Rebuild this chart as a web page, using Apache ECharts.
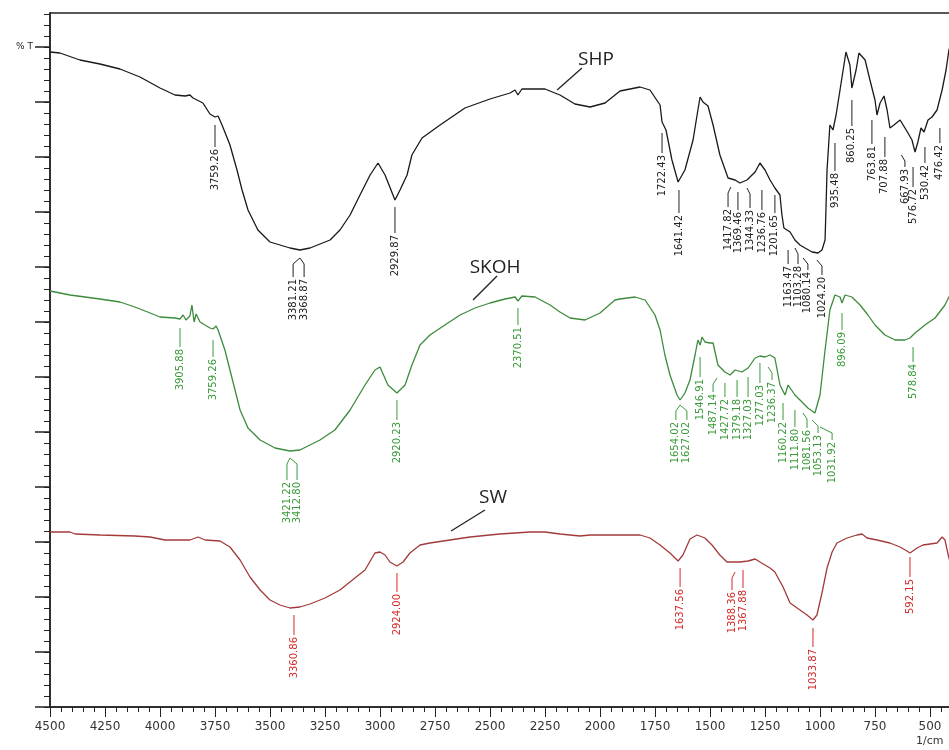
<!DOCTYPE html>
<html>
<head>
<meta charset="utf-8">
<title>FTIR SHP / SKOH / SW</title>
<script src="https://cdn.jsdelivr.net/npm/echarts@6/dist/echarts.min.js"></script>
<style>
    html, body { margin: 0; padding: 0; background: #fff; }
    #chart_main { width: 949px; height: 750px; }
</style>
</head>
<body>
<div id="chart_main"></div>
<script>
// [wavenumber 1/cm, relative %T] - the original prints no %T scale
var shp = [
    [4500, 655], [4455, 654], [4364, 647], [4273, 643], [4182, 638], [4091, 630], [4000, 619],
    [3932, 612], [3886, 611], [3864, 612], [3850, 609], [3841, 608], [3805, 604], [3773, 593],
    [3750, 590], [3736, 591], [3718, 582], [3682, 562], [3650, 537], [3627, 517], [3600, 497],
    [3555, 477], [3500, 465], [3409, 459], [3364, 457], [3318, 459], [3227, 467], [3182, 477],
    [3136, 492], [3091, 512], [3045, 532], [3009, 544], [2977, 532], [2932, 507], [2909, 517],
    [2877, 532], [2855, 552], [2809, 569], [2727, 582], [2614, 599], [2500, 608], [2409, 614],
    [2386, 617], [2373, 612], [2355, 618], [2250, 618], [2182, 612], [2114, 603], [2045, 600],
    [1977, 604], [1909, 616], [1841, 619], [1818, 620], [1773, 617], [1727, 602], [1718, 585],
    [1700, 577], [1673, 547], [1645, 525], [1614, 537], [1577, 567], [1555, 597], [1545, 610],
    [1532, 605], [1509, 601], [1486, 582], [1455, 552], [1418, 529], [1386, 527], [1364, 524],
    [1332, 527], [1295, 535], [1273, 544], [1250, 537], [1227, 527], [1205, 519], [1182, 512],
    [1173, 492], [1164, 479], [1150, 477], [1136, 475], [1114, 467], [1091, 462], [1068, 459],
    [1036, 455], [1009, 454], [991, 457], [977, 467], [973, 497], [968, 537], [955, 582],
    [941, 577], [927, 592], [909, 617], [882, 655], [864, 642], [855, 619], [836, 637],
    [823, 654], [795, 647], [773, 627], [750, 607], [741, 592], [727, 604], [709, 611],
    [695, 597], [682, 579], [664, 582], [636, 587], [600, 574], [582, 567], [568, 555],
    [555, 565], [541, 579], [527, 575], [509, 587], [491, 590], [468, 597], [445, 617],
    [427, 637], [414, 657], [400, 665]
];
var skoh = [
    [4500, 416], [4409, 412], [4273, 408], [4182, 405], [4114, 400], [4045, 394], [4000, 390],
    [3932, 389], [3909, 388], [3895, 392], [3882, 387], [3864, 391], [3855, 402], [3845, 385],
    [3836, 393], [3818, 385], [3773, 379], [3759, 378], [3745, 381], [3736, 377], [3705, 357],
    [3682, 337], [3659, 317], [3636, 297], [3600, 279], [3545, 267], [3477, 259], [3409, 256],
    [3364, 257], [3273, 267], [3205, 277], [3136, 297], [3068, 322], [3023, 337], [3000, 340],
    [2964, 322], [2923, 314], [2886, 322], [2855, 342], [2818, 362], [2773, 372], [2705, 382],
    [2636, 392], [2568, 399], [2500, 404], [2432, 408], [2386, 410], [2373, 406], [2355, 411],
    [2295, 410], [2227, 402], [2182, 395], [2136, 389], [2068, 387], [2000, 394], [1932, 407],
    [1909, 408], [1841, 410], [1795, 407], [1750, 392], [1727, 377], [1705, 352], [1682, 332],
    [1650, 312], [1636, 307], [1614, 314], [1591, 327], [1568, 352], [1555, 367], [1545, 362],
    [1536, 370], [1523, 365], [1500, 364], [1486, 364], [1464, 342], [1432, 335], [1409, 332],
    [1386, 337], [1355, 335], [1327, 339], [1295, 349], [1273, 351], [1250, 350], [1227, 352],
    [1205, 349], [1182, 322], [1159, 312], [1145, 322], [1114, 312], [1091, 307], [1055, 299],
    [1023, 294], [1000, 312], [977, 357], [955, 397], [932, 412], [909, 410], [900, 404],
    [886, 412], [855, 410], [818, 402], [782, 392], [750, 382], [705, 372], [659, 367],
    [614, 367], [591, 369], [568, 374], [523, 382], [477, 389], [432, 402], [414, 410], [400, 414]
];
var sw = [
    [4500, 175], [4409, 175], [4386, 173], [4273, 172], [4114, 171], [4045, 170], [3977, 167],
    [3864, 167], [3827, 170], [3795, 167], [3727, 166], [3682, 160], [3636, 147], [3591, 130],
    [3545, 117], [3500, 107], [3455, 102], [3409, 99], [3364, 100], [3318, 103], [3250, 109],
    [3182, 117], [3114, 129], [3068, 137], [3023, 154], [3000, 155], [2977, 152], [2955, 145],
    [2923, 141], [2895, 145], [2864, 154], [2818, 162], [2773, 164], [2682, 167], [2591, 170],
    [2455, 173], [2318, 175], [2250, 175], [2182, 173], [2091, 171], [2045, 172], [1909, 172],
    [1818, 172], [1773, 169], [1727, 162], [1682, 154], [1645, 146], [1623, 152], [1591, 168],
    [1559, 172], [1523, 169], [1491, 162], [1455, 152], [1423, 145], [1364, 145], [1327, 146],
    [1295, 148], [1273, 145], [1227, 139], [1205, 135], [1168, 120], [1136, 104], [1091, 97],
    [1059, 92], [1032, 87], [1014, 92], [991, 114], [968, 139], [945, 155], [923, 164],
    [877, 169], [832, 172], [809, 173], [786, 169], [741, 167], [682, 164], [636, 160],
    [605, 156], [591, 154], [559, 159], [532, 162], [468, 164], [445, 170], [432, 167],
    [414, 149], [400, 140]
];

// peak labels: [label at (1/cm), leader top (%T), text, leader starts at (1/cm), leader length px]
var shpPeaks = [
    [3750, 582, '3759.26', 3750, 22], [3395, 449, '3381.21', 3364, 19], [3345, 449, '3368.87', 3364, 19],
    [2932, 500, '2929.87', 2932, 26], [1718, 574, '1722.43', 1718, 20], [1641, 517, '1641.42', 1641, 23],
    [1418, 520, '1417.82', 1405, 20], [1373, 515, '1369.46', 1373, 18], [1318, 519, '1344.33', 1332, 20],
    [1264, 517, '1236.76', 1264, 20], [1205, 512, '1201.65', 1205, 18], [1145, 457, '1163.47', 1145, 14],
    [1100, 459, '1103.28', 1114, 16], [1055, 449, '1080.14', 1077, 12], [991, 447, '1024.20', 1014, 15],
    [932, 564, '935.48', 932, 28], [855, 607, '860.25', 855, 26], [764, 587, '763.81', 764, 24],
    [705, 570, '707.88', 705, 20], [614, 552, '667.93', 630, 12], [577, 540, '576.72', 577, 20],
    [523, 560, '530.42', 523, 16], [455, 579, '476.42', 455, 15]
];
var skohPeaks = [
    [3909, 379, '3905.88', 3909, 19], [3759, 367, '3759.26', 3759, 17], [3423, 249, '3421.22', 3409, 22],
    [3377, 249, '3412.80', 3409, 22], [2923, 307, '2920.23', 2923, 20], [2373, 399, '2370.51', 2373, 17],
    [1655, 302, '1654.02', 1636, 15], [1605, 302, '1627.02', 1636, 15], [1545, 350, '1546.91', 1545, 20],
    [1486, 329, '1487.14', 1468, 14], [1432, 324, '1427.72', 1432, 14], [1377, 327, '1379.18', 1377, 17],
    [1327, 330, '1327.03', 1327, 20], [1273, 344, '1277.03', 1273, 20], [1218, 340, '1236.37', 1236, 13],
    [1168, 304, '1160.22', 1168, 17], [1114, 297, '1111.80', 1114, 17], [1059, 294, '1081.56', 1077, 15],
    [1009, 287, '1053.13', 1036, 13], [945, 280, '1031.92', 1000, 13], [900, 394, '896.09', 900, 17],
    [577, 360, '578.84', 577, 15]
];
var swPeaks = [
    [3391, 92, '3360.86', 3391, 20], [2923, 134, '2924.00', 2923, 19], [1636, 139, '1637.56', 1636, 19],
    [1400, 135, '1388.36', 1386, 18], [1350, 137, '1367.88', 1350, 18], [1032, 79, '1033.87', 1032, 19],
    [591, 150, '592.15', 591, 20]
];

// sample names with pointer: [name, line from x, y, line to x, y, text x, y]
var sampleTags = [
    ['SHP', 2195, 617, 2082, 639, 2018, 647],
    ['SKOH', 2577, 407, 2468, 431, 2477, 439],
    ['SW', 2677, 176, 2523, 197, 2486, 209]
];

var yMajor = [0, 55, 110, 165, 220, 275, 330, 385, 440, 495, 550, 605, 660];
var yMinor = [];
for (var t = 0; t <= 693; t += 11) yMinor.push(t);

function peakItem(list, color) {
    return function (params, api) {
        var p = list[params.dataIndex];
        var a = api.coord([p[3], p[1]]);
        var b = api.coord([p[0], p[1]]);
        var bend = p[3] !== p[0] ? 6 : 0;
        var end = a[1] + p[4];
        return {
            type: 'group',
            children: [{
                type: 'polyline',
                shape: { points: [[a[0], a[1]], [b[0], a[1] + bend], [b[0], end]] },
                style: { stroke: color, lineWidth: 1, fill: null }
            }, {
                type: 'text',
                x: b[0],
                y: end + 2,
                rotation: Math.PI / 2,
                style: {
                    text: p[2], fill: color, font: '10px "DejaVu Sans"',
                    align: 'right', verticalAlign: 'middle'
                }
            }]
        };
    };
}

function peakSeries(list, color) {
    return {
        type: 'custom',
        renderItem: peakItem(list, color),
        data: list.map(function (p) { return [p[0], p[1]]; }),
        encode: { x: 0, y: 1 },
        silent: true,
        z: 3
    };
}

var myChart = echarts.init(document.getElementById('chart_main'));
var option = {
    animation: false,
    backgroundColor: '#fff',
    grid: {
        left: 50, top: 13, bottom: 43, width: 935,
        outerBoundsMode: 'none',
        show: true, borderColor: '#222', borderWidth: 1.5
    },
    xAxis: {
        type: 'value',
        inverse: true,
        min: 250,
        max: 4500,
        interval: 250,
        axisLine: { lineStyle: { color: '#222', width: 1.5 } },
        axisTick: { length: 10, lineStyle: { color: '#222' } },
        minorTick: { show: true, splitNumber: 5, length: 5, lineStyle: { color: '#222' } },
        splitLine: { show: false },
        axisLabel: {
            margin: 14, color: '#333', fontSize: 12, fontFamily: 'DejaVu Sans',
            showMaxLabel: true,
            formatter: function (v) { return String(v); }
        }
    },
    yAxis: [{
        type: 'value',
        min: 0,
        max: 694,
        axisLine: { show: true, lineStyle: { color: '#222', width: 1.5 } },
        axisTick: { show: true, length: 15, customValues: yMajor, lineStyle: { color: '#222', width: 1.5 } },
        axisLabel: { show: false },
        splitLine: { show: false }
    }, {
        type: 'value',
        min: 0,
        max: 694,
        position: 'left',
        axisLine: { show: false },
        axisTick: { show: true, length: 6, customValues: yMinor, lineStyle: { color: '#222' } },
        axisLabel: { show: false },
        splitLine: { show: false }
    }],
    graphic: [
        { type: 'text', left: 16, top: 42, style: { text: '% T', font: '9px "DejaVu Sans"', fill: '#222' } },
        { type: 'text', left: 916, top: 736, style: { text: '1/cm', font: '11px "DejaVu Sans"', fill: '#333' } }
    ],
    series: [
        { name: 'SHP', type: 'line', data: shp, showSymbol: false, lineStyle: { color: '#1a1a1a', width: 1.3 }, z: 2 },
        { name: 'SKOH', type: 'line', data: skoh, showSymbol: false, lineStyle: { color: '#3d8b3d', width: 1.3 }, z: 2 },
        { name: 'SW', type: 'line', data: sw, showSymbol: false, lineStyle: { color: '#a33b3b', width: 1.3 }, z: 2 },
        peakSeries(shpPeaks, '#222'),
        peakSeries(skohPeaks, '#3a9a3a'),
        peakSeries(swPeaks, '#d42a2a'),
        {
            type: 'custom',
            silent: true,
            data: sampleTags.map(function (s) { return [s[5], s[6]]; }),
            encode: { x: 0, y: 1 },
            renderItem: function (params, api) {
                var s = sampleTags[params.dataIndex];
                var a = api.coord([s[1], s[2]]);
                var b = api.coord([s[3], s[4]]);
                var c = api.coord([s[5], s[6]]);
                return {
                    type: 'group',
                    children: [{
                        type: 'line',
                        shape: { x1: a[0], y1: a[1], x2: b[0], y2: b[1] },
                        style: { stroke: '#222', lineWidth: 1.3 }
                    }, {
                        type: 'text',
                        x: c[0], y: c[1],
                        style: {
                            text: s[0], fill: '#222', font: '19px "Open Sans"',
                            align: 'center', verticalAlign: 'middle'
                        }
                    }]
                };
            }
        }
    ]
};
myChart.setOption(option);
</script>
</body>
</html>
